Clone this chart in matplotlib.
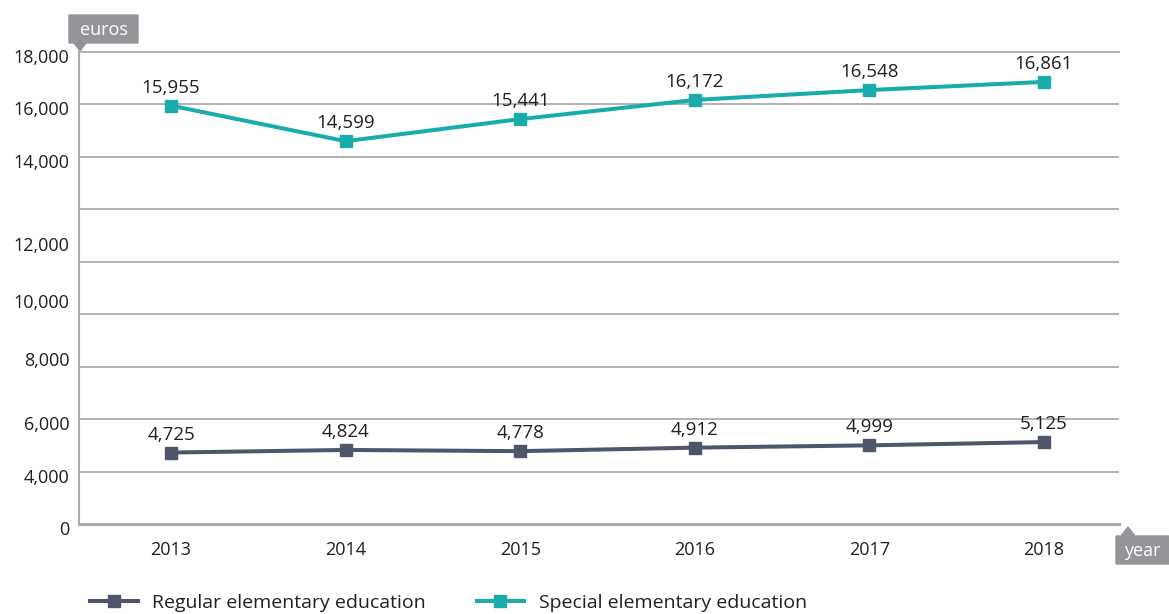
import numpy as np
import matplotlib
matplotlib.use("Agg")
import matplotlib.pyplot as plt
from matplotlib.patches import Polygon
from matplotlib.ticker import FixedLocator, FuncFormatter
import matplotlib.transforms as mtransforms

plt.rcParams['font.family'] = ['Open Sans', 'DejaVu Sans']

# ---- data ----
years = ["2013", "2014", "2015", "2016", "2017", "2018"]
regular = [4725, 4824, 4778, 4912, 4999, 5125]
special = [15955, 14599, 15441, 16172, 16548, 16861]
series_names = ["Regular elementary education", "Special elementary education"]
ytick_values = [0, 4000, 6000, 8000, 10000, 12000, 14000, 16000, 18000]

# ---- style ----
C_REG = "#4f566b"
C_SPE = "#1aabab"
C_GRID = "#a9abae"
C_TEXT = "#231f20"
C_BOX = "#939598"

W, H = 1169, 614
fig = plt.figure(figsize=(W / 100, H / 100), dpi=100)

def fx(p):
    return p / W

def fy(p):
    return 1 - p / H

ax = fig.add_axes([fx(79), fy(524), fx(1119) - fx(79), fy(52) - fy(524)])

# broken (piecewise) value axis as in the original: 0-4000 compressed
kv = [-1e5, 0, 4000, 6000, 8000, 10000, 12000, 14000, 16000, 18000, 1e5]
ku = [-25, 0, 1, 2, 3.22, 4.33, 5.42, 7, 8, 9, 50]

def fwd(v):
    return np.interp(v, kv, ku)

def inv(u):
    return np.interp(u, ku, kv)

ax.set_yscale('function', functions=(fwd, inv))
ax.set_ylim(0, 18000)

x = np.arange(len(years))
ax.set_xlim(-0.527, 5.43)

for vals, col, name in [(regular, C_REG, series_names[0]), (special, C_SPE, series_names[1])]:
    ax.plot(x, vals, color=col, lw=2.9, marker='s', ms=8, label=name, zorder=3)
    for xi, v in zip(x, vals):
        ax.annotate(f"{v:,}", (xi, v), xytext=(0, 9), textcoords='offset pixels',
                    ha='center', va='bottom', fontsize=13.5, color=C_TEXT, zorder=4)

# gridlines: evenly spaced divisions of the broken axis
ax.yaxis.remove_overlapping_locs = False
ax.yaxis.set_major_locator(FixedLocator(ytick_values))
ax.yaxis.set_major_formatter(FuncFormatter(lambda v, p: f"{int(v):,}"))
ax.yaxis.set_minor_locator(FixedLocator(list(inv(np.arange(1, 9)))))
ax.grid(False)
ax.grid(True, which='minor', axis='y', color=C_GRID, lw=1.3)
ax.tick_params(axis='y', which='both', length=0, pad=7, labelsize=13, labelcolor=C_TEXT)
ax.tick_params(axis='y', which='minor', labelleft=False)

ax.set_xticks(x)
ax.set_xticklabels(years)
ax.tick_params(axis='x', length=0, pad=12, labelsize=13, labelcolor=C_TEXT)

ax.spines['right'].set_visible(False)
ax.spines['top'].set_color(C_GRID)
ax.spines['top'].set_linewidth(1.3)
ax.spines['left'].set_color(C_GRID)
ax.spines['left'].set_linewidth(1.5)
ax.spines['bottom'].set_color(C_GRID)
ax.spines['bottom'].set_linewidth(2.2)

# shift y tick labels a little downward like the original
off = mtransforms.ScaledTranslation(0, -4 / 100, fig.dpi_scale_trans)
for lab in ax.get_yticklabels():
    lab.set_transform(lab.get_transform() + off)

# "euros" box with pointer
box1 = Polygon([(fx(69), fy(15)), (fx(138), fy(15)), (fx(138), fy(43)), (fx(86), fy(43)),
                (fx(80), fy(51)), (fx(74), fy(43)), (fx(69), fy(43))],
               closed=True, transform=fig.transFigure, color=C_BOX, zorder=5)
fig.patches.append(box1)
fig.text(fx(103.5), fy(30), "euros", ha='center', va='center', color='white',
         fontsize=13, zorder=6)

# "year" box with pointer
box2 = Polygon([(fx(1116), fy(536)), (fx(1121), fy(536)), (fx(1128), fy(527)), (fx(1135), fy(536)),
                (fx(1169), fy(536)), (fx(1169), fy(564)), (fx(1116), fy(564))],
               closed=True, transform=fig.transFigure, color=C_BOX, zorder=5)
fig.patches.append(box2)
fig.text(fx(1142), fy(551), "year", ha='center', va='center', color='white',
         fontsize=13, zorder=6)

fig.legend(loc='center left', bbox_to_anchor=(fx(90), fy(603)), ncol=2, frameon=False,
           fontsize=14, handlelength=2.45, handletextpad=0.75, columnspacing=2.6,
           borderpad=0, borderaxespad=0, labelcolor=C_TEXT)

fig.savefig("out.png", dpi=100)
